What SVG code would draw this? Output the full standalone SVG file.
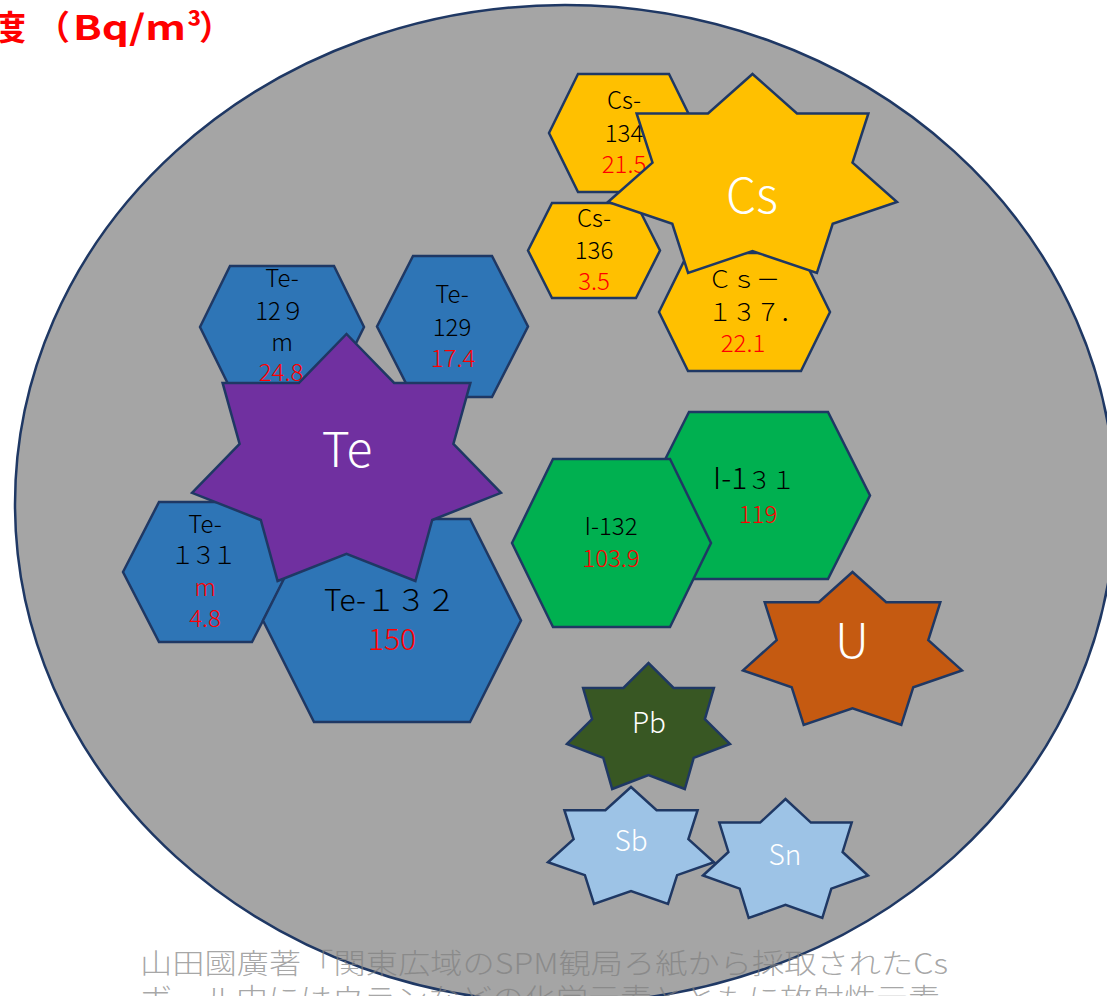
<svg xmlns="http://www.w3.org/2000/svg" width="1107" height="996" viewBox="0 0 1107 996">
<style>
.sh{stroke:#1F3864;stroke-width:2.5;stroke-linejoin:miter}
.blue{fill:#2E75B6}.gold{fill:#FFC000}.green{fill:#00B050}.purple{fill:#7030A0}
.orange{fill:#C55A11}.dkgreen{fill:#385723}.lblue{fill:#9DC3E6}
text{font-family:"Noto Sans CJK JP","Noto Sans",sans-serif}
.k{fill:#000;font-size:24px;text-anchor:middle;font-weight:300}
.r{fill:#FF0000;font-size:24px;text-anchor:middle;font-weight:300}
.w{fill:#FFFFFF;text-anchor:middle;font-weight:300}
.big{font-size:30px}
</style>
<rect x="0" y="0" width="1107" height="996" fill="#FFFFFF"/>
<ellipse id="circle" cx="565" cy="504" rx="550" ry="499" fill="#A5A5A5" stroke="#1F3864" stroke-width="2.5"/>

<g id="title">
<text y="40" font-size="34" font-weight="bold" fill="#FF0000"><tspan x="-8">度</tspan><tspan x="36">（</tspan><tspan x="73" textLength="113" lengthAdjust="spacingAndGlyphs">Bq/m</tspan><tspan x="187">³</tspan><tspan x="199">）</tspan></text>
</g>

<g id="cs134">
<polygon class="sh gold" points="549,133 578,74 669,74 698,133 669,192 578,192"/>
<text class="k" x="624" y="109">Cs-</text>
<text class="k" x="624" y="142">134</text>
<text class="r" x="624" y="173">21.5</text>
</g>
<g id="cs136">
<polygon class="sh gold" points="528,250.5 552,203 636,203 660,250.5 636,298 552,298"/>
<text class="k" x="594" y="227">Cs-</text>
<text class="k" x="594" y="259">136</text>
<text class="r" x="594" y="290">3.5</text>
</g>
<g id="cs137">
<polygon class="sh gold" points="659,312 688,253 801,253 830,312 801,371 688,371"/>
<text class="k" x="708" y="288" style="text-anchor:start">Ｃｓ－</text>
<text class="k" x="708" y="321" style="text-anchor:start">１３７．</text>
<text class="r" x="743" y="352">22.1</text>
</g>
<g id="cs">
<polygon class="sh gold" points="608,202 652.5,162.6 636.6,113.4 708,113.4 752.5,74 797,113.4 868.4,113.4 852.5,162.6 897,202 832.7,223.8 816.9,273 752.5,251.1 688.1,273 672.3,223.8"/>
<text class="w" x="752" y="213" font-size="48">Cs</text>
</g>

<g id="te129m">
<polygon class="sh blue" points="200,327 230,266 334,266 364,327 334,388 230,388"/>
<text class="k" x="282" y="287">Te-</text>
<text class="k" x="280" y="320">12９</text>
<text class="k" x="282" y="351">m</text>
<text class="r" x="281" y="381">24.8</text>
</g>
<g id="te129">
<polygon class="sh blue" points="377,326.5 413,256 492,256 528,326.5 492,397 413,397"/>
<text class="k" x="452" y="303">Te-</text>
<text class="k" x="452" y="336">129</text>
<text class="r" x="453" y="367">17.4</text>
</g>
<g id="te131m">
<polygon class="sh blue" points="123,572 159,502 252,502 288,572 252,642 159,642"/>
<text class="k" x="205" y="533">Te-</text>
<text class="k" x="202" y="564" letter-spacing="-3">１３１</text>
<text class="r" x="205" y="596">m</text>
<text class="r" x="205" y="627">4.8</text>
</g>
<g id="te132">
<polygon class="sh blue" points="263,620.5 314,519 470,519 521,620.5 470,722 314,722"/>
<text class="k big" x="390" y="611">Te-１３２</text>
<text class="r big" x="392" y="650">150</text>
</g>
<g id="te">
<polygon class="sh purple" points="192,492.8 239.6,443.9 222.6,382.9 298.9,382.9 346.5,334 394.1,382.9 470.4,382.9 453.4,443.9 501,492.8 432.2,520 415.4,581 346.5,553.8 277.6,581 260.8,520"/>
<text class="w" x="347" y="467" font-size="48">Te</text>
</g>

<g id="i131">
<polygon class="sh green" points="647,495.5 689,412 828,412 870,495.5 828,579 689,579"/>
<text class="k" x="713" y="489" style="text-anchor:start"><tspan font-size="30">I-1</tspan><tspan font-size="24">３１</tspan></text>
<text class="r" x="758" y="523">119</text>
</g>
<g id="i132">
<polygon class="sh green" points="512,543 553,459 670,459 711,543 670,627 553,627"/>
<text class="k" x="611" y="535">I-132</text>
<text class="r" x="611" y="567">103.9</text>
</g>

<g id="u">
<polygon class="sh orange" points="743,670.4 776.7,640.1 764.7,602.3 818.8,602.3 852.5,572 886.2,602.3 940.3,602.3 928.3,640.1 962,670.4 913.3,687.2 901.3,725 852.5,708.2 803.7,725 791.7,687.2"/>
<text class="w" x="852" y="658" font-size="48">U</text>
</g>
<g id="pb">
<polygon class="sh dkgreen" points="567,744 592.1,719.1 583.1,688 623.4,688 648.5,663 673.6,688 713.9,688 704.9,719.1 730,744 693.7,757.9 684.8,789 648.5,775.1 612.2,789 603.3,757.9"/>
<text class="w" x="649" y="733" font-size="28">Pb</text>
</g>
<g id="sb">
<polygon class="sh lblue" points="548,862.2 573.6,839.1 564.4,810.2 605.4,810.2 631,787 656.6,810.2 697.6,810.2 688.4,839.1 714,862.2 677.1,875.1 668,904 631,891.1 594,904 584.9,875.1"/>
<text class="w" x="631" y="851" font-size="28">Sb</text>
</g>
<g id="sn">
<polygon class="sh lblue" points="703,875.5 728.4,852 719.3,822.6 760.1,822.6 785.5,799 810.9,822.6 851.7,822.6 842.6,852 868,875.5 831.3,888.6 822.3,918 785.5,904.9 748.7,918 739.7,888.6"/>
<text class="w" x="785" y="865" font-size="28">Sn</text>
</g>

<g id="caption" fill="#7F7F7F" fill-opacity="0.7" font-size="28" font-weight="300">
<text x="140" y="974" textLength="808" lengthAdjust="spacingAndGlyphs">山田國廣著「関東広域のSPM観局ろ紙から採取されたCs</text>
<text x="140" y="1009" textLength="800" lengthAdjust="spacingAndGlyphs">ボール中にはウランなどの化学元素とともに放射性元素</text>
</g>
</svg>
